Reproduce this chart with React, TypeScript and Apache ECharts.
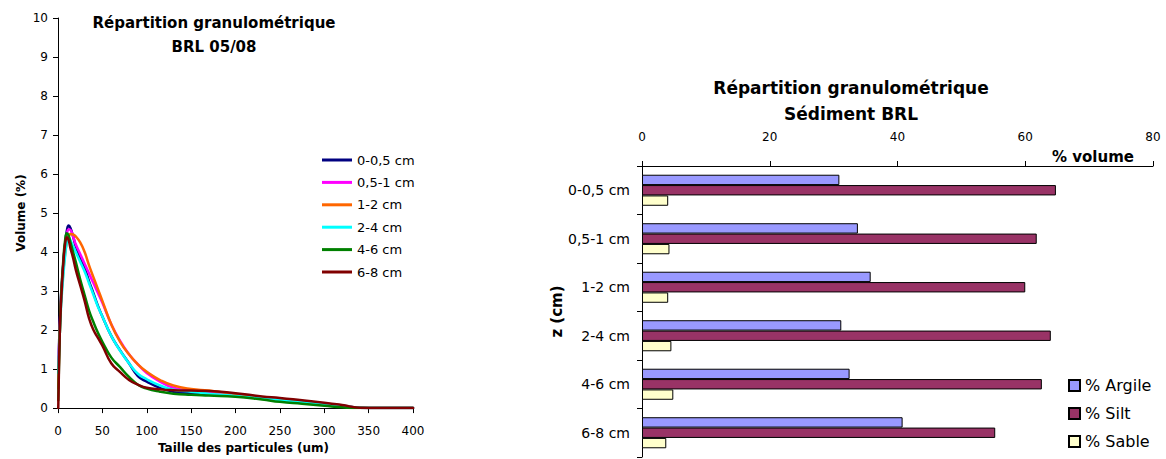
import React, { useEffect, useRef } from "react";
import * as echarts from "echarts";

const FONT = "DejaVu Sans";

// Left chart: particle size distribution (x in µm, y in % volume)
const particleSizes = [0.3, 1, 2, 3, 4, 6, 8, 10, 12, 14, 17, 20, 25, 30, 35, 40, 45, 50, 60, 70, 80, 90, 100, 115, 130, 150, 170, 200, 230, 250, 275, 300, 320, 340, 360, 380, 400];
const depthNames = ["0-0,5 cm", "0,5-1 cm", "1-2 cm", "2-4 cm", "4-6 cm", "6-8 cm"];
const vol_0_05 = [1.0, 1.5, 2.2, 2.7, 3.1, 3.7, 4.2, 4.55, 4.68, 4.62, 4.4, 4.15, 3.85, 3.6, 3.25, 2.94, 2.62, 2.35, 1.85, 1.48, 1.15, 0.82, 0.68, 0.52, 0.42, 0.38, 0.36, 0.31, 0.25, 0.21, 0.16, 0.1, 0.05, 0.01, 0, 0, 0];
const vol_05_1 = [0.9, 1.4, 2.1, 2.6, 3.0, 3.6, 4.1, 4.45, 4.58, 4.57, 4.4, 4.2, 3.95, 3.7, 3.45, 3.2, 2.95, 2.7, 2.15, 1.72, 1.38, 1.12, 0.9, 0.68, 0.52, 0.45, 0.42, 0.34, 0.27, 0.22, 0.17, 0.11, 0.05, 0.01, 0, 0, 0];
const vol_1_2 = [0.5, 1.2, 1.9, 2.5, 2.9, 3.5, 3.95, 4.25, 4.4, 4.46, 4.45, 4.4, 4.25, 4.0, 3.66, 3.35, 3.05, 2.75, 2.15, 1.7, 1.38, 1.12, 0.93, 0.72, 0.58, 0.49, 0.45, 0.36, 0.28, 0.24, 0.18, 0.12, 0.06, 0.01, 0, 0, 0];
const vol_2_4 = [0.9, 1.3, 1.9, 2.4, 2.8, 3.4, 3.9, 4.25, 4.38, 4.3, 4.15, 4.0, 3.75, 3.5, 3.2, 2.9, 2.6, 2.35, 1.85, 1.47, 1.15, 0.88, 0.74, 0.58, 0.47, 0.42, 0.37, 0.31, 0.25, 0.2, 0.15, 0.1, 0.05, 0.01, 0, 0, 0];
const vol_4_6 = [0.2, 1.0, 1.9, 2.6, 3.1, 3.8, 4.3, 4.48, 4.42, 4.25, 4.0, 3.75, 3.3, 2.9, 2.5, 2.2, 1.93, 1.7, 1.3, 1.05, 0.8, 0.6, 0.5, 0.42, 0.37, 0.34, 0.32, 0.29, 0.22, 0.16, 0.11, 0.06, 0.02, 0, 0, 0, 0];
const vol_6_8 = [0, 0.9, 1.9, 2.5, 2.95, 3.7, 4.2, 4.38, 4.3, 4.1, 3.85, 3.55, 3.15, 2.75, 2.3, 2.0, 1.8, 1.6, 1.15, 0.92, 0.72, 0.6, 0.52, 0.48, 0.46, 0.45, 0.44, 0.38, 0.3, 0.26, 0.2, 0.14, 0.08, 0.01, 0, 0, 0];
const lineColors = ["#000080", "#FF00FF", "#FF6600", "#00FFFF", "#008000", "#800000"];

// Right chart: texture per depth (% volume)
const depthCats = ["0-0,5 cm", "0,5-1 cm", "1-2 cm", "2-4 cm", "4-6 cm", "6-8 cm"];
const argile = [30.9, 33.8, 35.8, 31.2, 32.5, 40.8];
const silt = [64.8, 61.8, 60.0, 64.0, 62.6, 55.3];
const sable = [4.1, 4.3, 4.1, 4.6, 4.9, 3.8];
const barNames = ["% Argile", "% Silt", "% Sable"];
const barColors = ["#9999FF", "#993366", "#FFFFCC"];

export default function App() {
  const ref = useRef<HTMLDivElement>(null);
  useEffect(() => {
    if (!ref.current) return;
    const chart = echarts.init(ref.current, undefined, { renderer: "svg" });
    const curves = [vol_0_05, vol_05_1, vol_1_2, vol_2_4, vol_4_6, vol_6_8];
    const lineSeries = curves.map((vals, i) => ({
      name: depthNames[i],
      type: "line",
      xAxisIndex: 0,
      yAxisIndex: 0,
      data: particleSizes.map((x, j) => [x, vals[j]]),
      showSymbol: false,
      symbol: "none",
      smooth: 0.5,
      lineStyle: { color: lineColors[i], width: 2.5, join: "round", cap: "round" },
      itemStyle: { color: lineColors[i] },
    }));
    const barData = [argile, silt, sable];
    const barSeries = barData.map((vals, i) => ({
      name: barNames[i],
      type: "bar",
      xAxisIndex: 1,
      yAxisIndex: 1,
      data: vals,
      barGap: "0%",
      barCategoryGap: "36%",
      itemStyle: { color: barColors[i], borderColor: "#000", borderWidth: 1 },
    }));
    const axisBase = {
      axisLine: { show: true, lineStyle: { color: "#000", width: 1 } },
      axisTick: { show: true, length: 5, lineStyle: { color: "#000" } },
      splitLine: { show: false },
    };
    chart.setOption({
      animation: false,
      textStyle: { fontFamily: FONT, color: "#000" },
      grid: [
        { left: 58, top: 18, width: 355, height: 395 },
        { left: 642, top: 166, width: 511, height: 291 },
      ],
      xAxis: [
        {
          ...axisBase,
          type: "value",
          gridIndex: 0,
          min: 0,
          max: 400,
          interval: 50,
          axisLabel: { fontSize: 12, color: "#000", margin: 17, fontFamily: FONT },
          name: "Taille des particules (um)",
          nameLocation: "middle",
          nameGap: 31,
          nameTextStyle: { fontWeight: "bold", fontSize: 12, color: "#000", fontFamily: FONT, padding: [0, 0, 0, 16] },
        },
        {
          ...axisBase,
          type: "value",
          gridIndex: 1,
          position: "top",
          min: 0,
          max: 80,
          interval: 20,
          axisLabel: { fontSize: 12, color: "#000", margin: 23, fontFamily: FONT },
        },
      ],
      yAxis: [
        {
          ...axisBase,
          type: "value",
          gridIndex: 0,
          min: 0,
          max: 10,
          interval: 1,
          axisLabel: { fontSize: 12, color: "#000", margin: 10, fontFamily: FONT },
          name: "Volume (%)",
          nameLocation: "middle",
          nameGap: 31,
          nameTextStyle: { fontWeight: "bold", fontSize: 12, color: "#000", fontFamily: FONT },
        },
        {
          ...axisBase,
          type: "category",
          gridIndex: 1,
          data: depthCats,
          inverse: true,
          axisLabel: { fontSize: 14, color: "#000", margin: 12, fontFamily: FONT },
          name: "z (cm)",
          nameLocation: "middle",
          nameGap: 72,
          nameTextStyle: { fontWeight: "bold", fontSize: 15, color: "#000", fontFamily: FONT },
        },
      ],
      legend: [
        {
          data: depthNames,
          orient: "vertical",
          left: 317,
          top: 148,
          icon: "rect",
          itemWidth: 30,
          itemHeight: 3,
          itemGap: 8.4,
          textStyle: { fontSize: 13, lineHeight: 14, color: "#000", fontFamily: FONT },
        },
        {
          data: barNames,
          orient: "vertical",
          left: 1063,
          top: 372.5,
          icon: "rect",
          itemWidth: 11,
          itemHeight: 11,
          itemGap: 12,
          textStyle: { fontSize: 16, lineHeight: 16, color: "#000", fontFamily: FONT },
        },
      ],
      graphic: [
        {
          type: "text",
          x: 214,
          y: 11,
          style: {
            text: "Répartition granulométrique\nBRL 05/08",
            textAlign: "center",
            textVerticalAlign: "top",
            fontFamily: FONT,
            fontWeight: "bold",
            fontSize: 15,
            lineHeight: 24,
            fill: "#000",
          },
        },
        {
          type: "text",
          x: 851,
          y: 75,
          style: {
            text: "Répartition granulométrique\nSédiment BRL",
            textAlign: "center",
            textVerticalAlign: "top",
            fontFamily: FONT,
            fontWeight: "bold",
            fontSize: 17,
            lineHeight: 26,
            fill: "#000",
          },
        },
        {
          type: "text",
          x: 1134,
          y: 157,
          style: {
            text: "% volume",
            textAlign: "right",
            textVerticalAlign: "middle",
            fontFamily: FONT,
            fontWeight: "bold",
            fontSize: 15,
            fill: "#000",
          },
        },
      ],
      series: [...lineSeries, ...barSeries],
    });
    return () => chart.dispose();
  }, []);
  return (
    <div
      ref={ref}
      style={{ position: "absolute", left: 0, top: 0, width: 1166, height: 459 }}
    />
  );
}
